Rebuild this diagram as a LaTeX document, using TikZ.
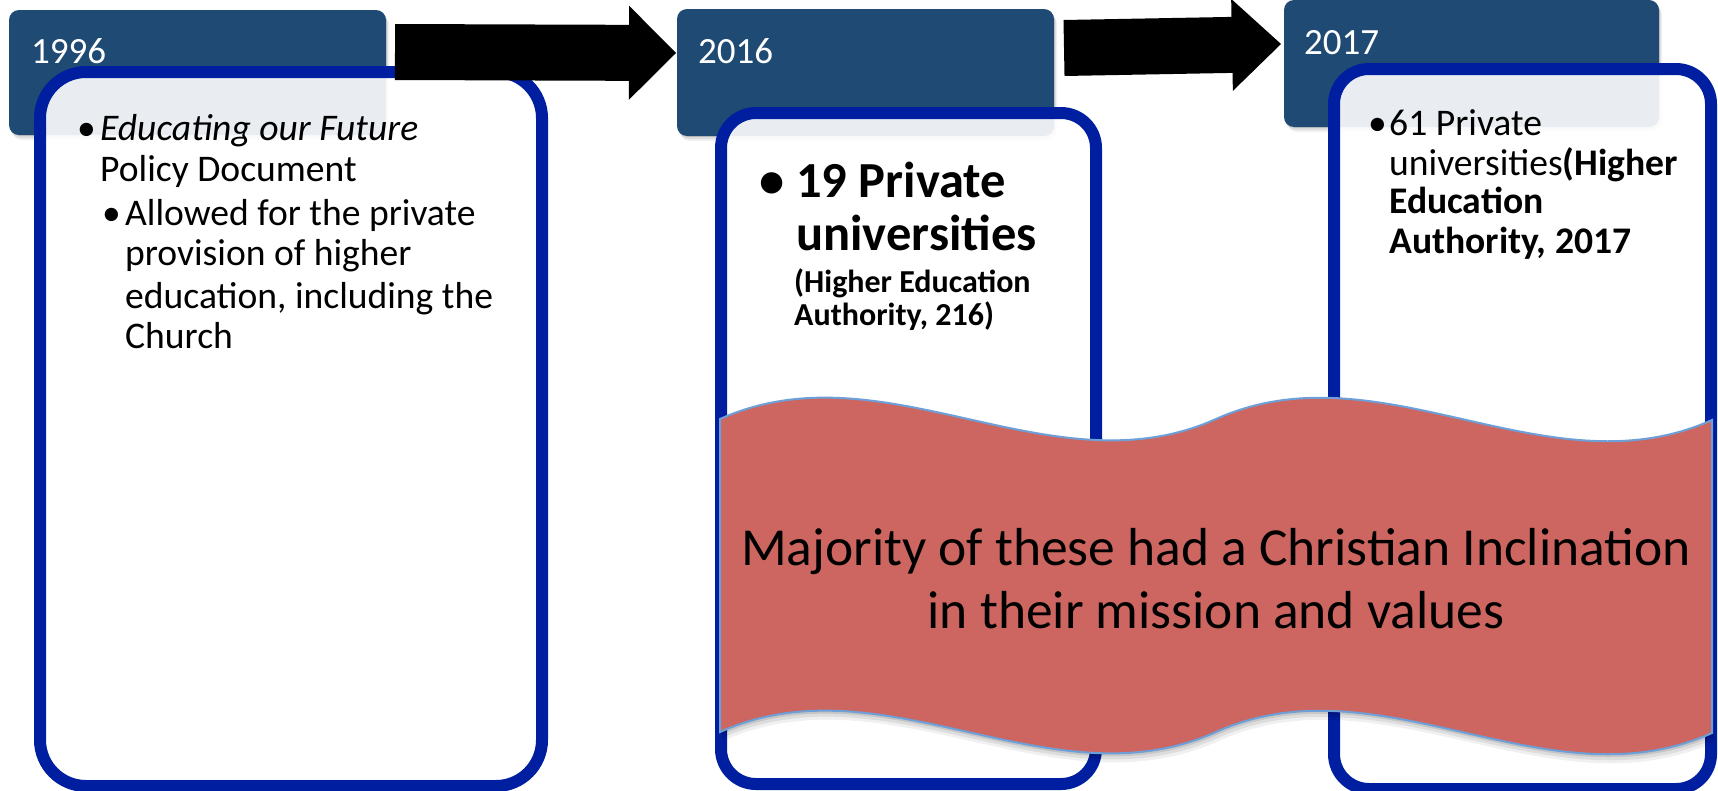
\documentclass[tikz,border=0pt]{standalone}
\usepackage{fontspec}
\setmainfont{Carlito}
\usetikzlibrary{calc}
\definecolor{hdr}{HTML}{1F4A73}
\definecolor{bord}{HTML}{001EA0}
\definecolor{bannerfill}{HTML}{CD6661}
\definecolor{bannerline}{HTML}{6D9FD8}

% year header with a soft shadow underneath
\newcommand{\yearhead}[5]{%
  \foreach \d/\o in {1/0.10,3/0.08,5/0.06}
    \fill[black, opacity=\o, rounded corners=10pt] (#2+\d*0.6,#3+\d) rectangle ++(#4,#5);
  \node[header, minimum width=#4pt, minimum height=#5pt] (#1) at (#2,#3) {};}

% block arrow: prefix, tail, tip, shaft half width, head half width, head length
\newcommand{\blockarrow}[6]{%
  \coordinate (#1h) at ($(#3)!#6pt!(#2)$);
  \fill[black] ($(#2)!#4pt!90:(#3)$) -- ($(#1h)!#4pt!90:(#3)$) -- ($(#1h)!#5pt!90:(#3)$)
    -- (#3) -- ($(#1h)!#5pt!-90:(#3)$) -- ($(#1h)!#4pt!-90:(#3)$) -- ($(#2)!#4pt!-90:(#3)$) -- cycle;}

% double-wave banner outline
\newcommand{\bannerpath}{(720,419) .. controls (885,345) and (1051,493) .. (1216,419)
  .. controls (1381,345) and (1547,494) .. (1712,420) -- (1712,733)
  .. controls (1547,807) and (1381,658) .. (1216,732)
  .. controls (1051,806) and (885,658) .. (720,732) -- cycle}

\begin{document}
\begin{tikzpicture}[x=1pt,y=-1pt,
  header/.style={rectangle, rounded corners=10pt, fill=hdr, inner sep=0pt, outer sep=0pt, anchor=north west},
  panel/.style={rectangle, draw=bord, line width=12pt, fill=white, fill opacity=0.9,
    inner sep=0pt, outer sep=0pt, anchor=north west},
  yeartxt/.style={anchor=base west, inner sep=0pt, text=white, font=\fontsize{37}{41}\selectfont},
  body/.style={anchor=base west, inner sep=0pt, font=\fontsize{37.6}{41}\selectfont},
  bigbold/.style={anchor=base west, inner sep=0pt, font=\fontsize{50.5}{55}\selectfont\bfseries},
  smallbold/.style={anchor=base west, inner sep=0pt, font=\fontsize{32}{33}\selectfont\bfseries},
  bannertxt/.style={anchor=base, inner sep=0pt, font=\fontsize{53.5}{63}\selectfont}]
\useasboundingbox (0,0) rectangle (1718,790);

% year headers
\yearhead{h1}{9}{10}{377}{125}
\yearhead{h2}{677}{9}{377}{127}
\yearhead{h3}{1284}{0}{375}{127}
\node[yeartxt] (y1) at (31,63) {1996};
\node[yeartxt] (y2) at (698,63) {2016};
\node[yeartxt] (y3) at (1304,54) {2017};

% content panels
\node[panel, rounded corners=46pt, minimum width=502pt, minimum height=714pt] (p1) at (40,72) {};
\node[panel, rounded corners=35pt, minimum width=375pt, minimum height=671pt] (p2) at (721,113) {};
\node[panel, rounded corners=35pt, minimum width=377pt, minimum height=720pt] (p3) at (1334,69) {};

% 1996 panel text
\node[body] (b1) at (77,140) {•};
\node[body] (t1) at (100,140) {\textit{Educating our Future}};
\node[body] (t2) at (100,181) {Policy Document};
\node[body] (b2) at (102,225) {•};
\node[body] (t3) at (125,225) {Allowed for the private};
\node[body] (t4) at (125,265) {provision of higher};
\node[body] (t5) at (125,308) {education, including the};
\node[body] (t6) at (125,348) {Church};

% 2016 panel text
\node[bigbold] (b3) at (759,197) {•};
\node[bigbold] (u1) at (796,197) {19 Private};
\node[bigbold] (u2) at (796,250) {universities};
\node[smallbold] (u3) at (794,292) {(Higher Education};
\node[smallbold] (u4) at (794,325) {Authority, 216)};

% 2017 panel text
\node[body] (b4) at (1368,135) {•};
\node[body] (v1) at (1389,135) {61 Private};
\node[body] (v2) at (1389,175) {universities\textbf{(Higher}};
\node[body] (v3) at (1389,213) {\textbf{Education}};
\node[body] (v4) at (1389,253) {\textbf{Authority, 2017}};

% arrows between the years
\coordinate (a1s) at (395,52);
\coordinate (a1e) at (676,53);
\coordinate (a2s) at (1064,48);
\coordinate (a2e) at (1281,44);
\blockarrow{arA}{a1s}{a1e}{28}{47}{47}
\blockarrow{arB}{a2s}{a2e}{28}{46}{49}

% banner with soft shadow
\foreach \d/\o in {3/0.10,6/0.08,9/0.06}{
  \begin{scope}[shift={(\d*0.3,\d)}]
    \fill[black, opacity=\o] \bannerpath;
  \end{scope}}
\draw[fill=bannerfill, draw=bannerline, line width=2pt] \bannerpath;
\node[bannertxt] (m1) at (1216,565) {Majority of these had a Christian Inclination};
\node[bannertxt] (m2) at (1216,628) {in their mission and values};
\end{tikzpicture}
\end{document}
